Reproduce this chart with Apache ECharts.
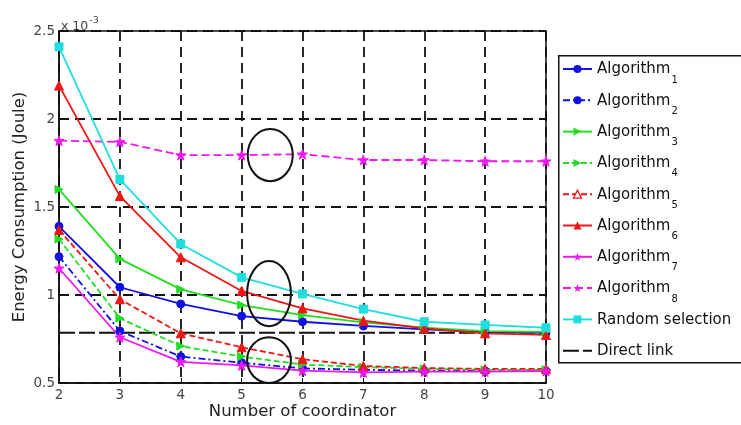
<!DOCTYPE html>
<html>
<head>
<meta charset="utf-8">
<script src="https://cdn.jsdelivr.net/npm/echarts@6/dist/echarts.min.js"></script>
<style>
  html, body { margin: 0; padding: 0; background: #fff; }
  #chart { width: 741px; height: 425px; }
</style>
</head>
<body>
<div id="chart"></div>
<script>
// Number of coordinators on the x axis
const coordinators = [2, 3, 4, 5, 6, 7, 8, 9, 10];

// Energy consumption (x 10^-3 Joule) per scheme
const algorithm1 = [1.39, 1.044, 0.949, 0.88, 0.848, 0.824, 0.805, 0.79, 0.785];
const algorithm2 = [1.218, 0.795, 0.65, 0.615, 0.583, 0.575, 0.57, 0.568, 0.568];
const algorithm3 = [1.60, 1.205, 1.032, 0.943, 0.886, 0.845, 0.815, 0.795, 0.79];
const algorithm4 = [1.318, 0.868, 0.71, 0.65, 0.605, 0.59, 0.58, 0.575, 0.575];
const algorithm5 = [1.37, 0.976, 0.782, 0.703, 0.635, 0.597, 0.585, 0.58, 0.58];
const algorithm6 = [2.19, 1.562, 1.214, 1.023, 0.924, 0.854, 0.81, 0.782, 0.773];
const algorithm7 = [1.152, 0.76, 0.62, 0.60, 0.57, 0.56, 0.565, 0.565, 0.568];
const algorithm8 = [1.877, 1.87, 1.795, 1.795, 1.80, 1.767, 1.767, 1.76, 1.76];
const randomSelection = [2.41, 1.657, 1.29, 1.10, 1.006, 0.92, 0.848, 0.83, 0.814];
const directLink = [0.786, 0.786, 0.786, 0.786, 0.786, 0.786, 0.786, 0.786, 0.786];

// Y axis ticks
const yMin = 0.5, yMax = 2.5, yStep = 0.5;

// Highlight ellipses: [x centre, y centre, x radius, y radius] in data units
const ellipseMarks = [
  [5.47, 1.795, 0.37, 0.148],
  [5.45, 1.008, 0.36, 0.185],
  [5.45, 0.63, 0.36, 0.13]
];

const starPath = 'path://M0,-10 L2.35,-3.24 9.51,-3.09 3.8,1.24 5.88,8.09 0,4 -5.88,8.09 -3.8,1.24 -9.51,-3.09 -2.35,-3.24Z';
const rightTri = 'path://M0,0 L10,5 L0,10 Z';

const pair = vals => coordinators.map((x, i) => [x, vals[i]]);

function lineSeries(name, vals, color, dash, symbol, size) {
  return {
    name, type: 'line', data: pair(vals),
    symbol, symbolSize: size,
    itemStyle: { color: color, borderColor: color },
    lineStyle: { color: color, width: 1.8, type: dash },
    emphasis: { disabled: true },
    z: 3
  };
}

const series = [
  lineSeries('Algorithm1', algorithm1, '#1010e0', 'solid', 'circle', 8),
  lineSeries('Algorithm2', algorithm2, '#1010e0', [7, 3, 2, 3], 'circle', 8),
  lineSeries('Algorithm3', algorithm3, '#22dd22', 'solid', rightTri, 8),
  lineSeries('Algorithm4', algorithm4, '#22dd22', [6, 3], rightTri, 8),
  lineSeries('Algorithm5', algorithm5, '#ee1515', [6, 3], 'triangle', 9),
  lineSeries('Algorithm6', algorithm6, '#ee1515', 'solid', 'triangle', 9),
  lineSeries('Algorithm7', algorithm7, '#ee18ee', 'solid', starPath, 10),
  lineSeries('Algorithm8', algorithm8, '#ee18ee', [8, 4], starPath, 10),
  lineSeries('Random selection', randomSelection, '#22dddd', 'solid', 'rect', 8),
  {
    name: 'Direct link', type: 'line', data: pair(directLink),
    symbol: 'none', lineStyle: { color: '#111', width: 2, type: [16, 4] },
    itemStyle: { color: '#111' }, emphasis: { disabled: true }, z: 2
  },
  {
    name: 'highlight', type: 'custom', data: ellipseMarks, silent: true, z: 6,
    renderItem(params, api) {
      const c = api.coord([api.value(0), api.value(1)]);
      const s = api.size([api.value(2), api.value(3)]);
      return {
        type: 'ellipse',
        shape: { cx: c[0], cy: c[1], rx: s[0], ry: s[1] },
        style: { fill: 'none', stroke: '#111', lineWidth: 2 }
      };
    }
  }
];

const legendNames = ['Algorithm1', 'Algorithm2', 'Algorithm3', 'Algorithm4',
  { name: 'Algorithm5', itemStyle: { color: '#fff', borderColor: '#ee1515', borderWidth: 1.3 } },
  'Algorithm6', 'Algorithm7', 'Algorithm8', 'Random selection',
  { name: 'Direct link', itemStyle: { opacity: 0 } }];

const font = 'DejaVu Sans';
const chart = echarts.init(document.getElementById('chart'), null, { renderer: 'canvas' });

chart.setOption({
  animation: false,
  backgroundColor: '#fff',
  title: {
    text: '{a|x 10}{b|-3}',
    left: 56, top: 7,
    textStyle: {
      fontWeight: 'normal',
      rich: {
        a: { fontFamily: font, fontSize: 12.5, fontWeight: 'normal', color: '#444', padding: [8, 0, 0, 0] },
        b: { fontFamily: font, fontSize: 9.5, fontWeight: 'normal', color: '#444', padding: [0, 0, 4, 1] }
      }
    }
  },
  // legend frame
  graphic: [{
    type: 'rect', left: 558, top: 55, z: 1,
    shape: { width: 200, height: 307 },
    style: { fill: '#fff', stroke: '#111', lineWidth: 1.5 }
  }],
  grid: {
    left: 59, right: 195, top: 31, bottom: 42,
    outerBoundsMode: 'none',
    containLabel: false,
    show: true, borderColor: '#111', borderWidth: 1.5, backgroundColor: '#fff'
  },
  legend: {
    data: legendNames,
    orient: 'vertical',
    left: 558, top: 55,
    padding: [5, 6, 0, 4],
    itemGap: 1.3,
    itemWidth: 29, itemHeight: 10,
    borderWidth: 0,
    selectedMode: false,
    z: 5,
    textStyle: {
      color: '#111',
      rich: {
        n: { fontFamily: font, fontSize: 15, color: '#111', lineHeight: 18, padding: [2, 0, 12, 0], verticalAlign: 'top' },
        s: { fontFamily: font, fontSize: 10, color: '#111', lineHeight: 12, padding: [15, 0, 5, 1], verticalAlign: 'top' }
      }
    },
    formatter(name) {
      const m = name.match(/^Algorithm(\d)$/);
      return m ? '{n|Algorithm}{s|' + m[1] + '}' : '{n|' + name + '}{s| }';
    }
  },
  xAxis: {
    type: 'value', min: 2, max: 10, interval: 1,
    name: 'Number of coordinator', nameLocation: 'middle', nameGap: 20,
    nameMoveOverlap: false,
    nameTextStyle: { fontFamily: font, fontSize: 16.5, color: '#222' },
    axisLine: { lineStyle: { color: '#111', width: 1.5 } },
    axisTick: { inside: true, length: 5, lineStyle: { color: '#111' } },
    axisLabel: { fontFamily: font, fontSize: 13.5, color: '#444', margin: 5 },
    splitLine: { show: true, lineStyle: { color: '#111', width: 1.8, type: [10, 6] } }
  },
  yAxis: {
    type: 'value', min: yMin, max: yMax, interval: yStep,
    name: 'Energy Consumption (Joule)', nameLocation: 'middle', nameGap: 31,
    nameMoveOverlap: false,
    nameTextStyle: { fontFamily: font, fontSize: 16.5, color: '#222' },
    axisLine: { show: true, lineStyle: { color: '#111', width: 1.5 } },
    axisTick: { show: true, inside: true, length: 5, lineStyle: { color: '#111' } },
    axisLabel: { fontFamily: font, fontSize: 13.5, color: '#444', margin: 4 },
    splitLine: { show: true, lineStyle: { color: '#111', width: 1.8, type: [10, 6] } }
  },
  series
});
</script>
</body>
</html>
